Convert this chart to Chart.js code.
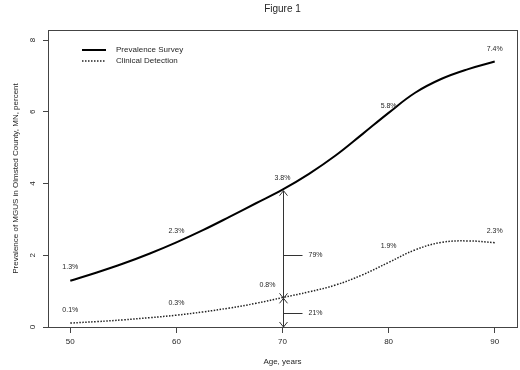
<!DOCTYPE html>
<html>
<head>
<meta charset="utf-8">
<script src="https://cdn.jsdelivr.net/npm/chart.js@4.4.1/dist/chart.umd.min.js"></script>
<style>
  html, body { margin: 0; padding: 0; background: #fff; }
</style>
</head>
<body>
<canvas id="fig1" width="520" height="370"></canvas>
<script>
// curve samples
const ages = [50, 52.5, 55, 57.5, 60, 62.5, 65, 67.5, 70, 72.5, 75, 77.5, 80, 82.5, 85, 87.5, 90];
const prevalenceSurvey = [1.29, 1.52, 1.77, 2.05, 2.36, 2.70, 3.07, 3.45, 3.83, 4.27, 4.78, 5.37, 5.97, 6.53, 6.92, 7.19, 7.40];
const clinicalDetection = [0.11, 0.15, 0.20, 0.26, 0.33, 0.42, 0.53, 0.66, 0.82, 0.98, 1.17, 1.45, 1.80, 2.15, 2.36, 2.40, 2.35];

// labelled values per decade
const decadeAges = [50, 60, 70, 80, 90];
const surveyPoints = [1.3, 2.3, 3.8, 5.8, 7.4];
const clinicalPoints = [0.1, 0.3, 0.8, 1.9, 2.3];

const xTicks = [50, 60, 70, 80, 90];
const yTicks = [0, 2, 4, 6, 8];

// split at age 70
const splitAge = 70;
const splitLevels = [3.8, 0.8, 0];
const shareLevels = [2.0, 0.4];
const shareLabels = ['79%', '21%'];

const FONT = '"Liberation Sans", Arial, sans-serif';
const TEXT = '#262626';
const AXIS = '#444';

const overlay = {
  id: 'overlay',
  afterDatasetsDraw(chart) {
    const { ctx, chartArea: a, scales: { x, y } } = chart;
    ctx.save();

    // box
    ctx.strokeStyle = AXIS;
    ctx.lineWidth = 1;
    ctx.strokeRect(a.left + 0.5, a.top + 0.5, a.width, a.height);

    // rotated y tick labels
    ctx.font = '8px ' + FONT;
    ctx.fillStyle = TEXT;
    ctx.textAlign = 'center';
    ctx.textBaseline = 'middle';
    y.ticks.forEach(t => {
      ctx.save();
      ctx.translate(a.left - 15, y.getPixelForValue(t.value));
      ctx.rotate(-Math.PI / 2);
      ctx.fillText(String(t.value), 0, 0);
      ctx.restore();
    });

    // arrows at 70
    const px = Math.round(x.getPixelForValue(splitAge)) + 0.5;
    const [hi, mid, lo] = splitLevels.map(v => y.getPixelForValue(v));
    ctx.strokeStyle = '#333';
    ctx.beginPath();
    ctx.moveTo(px, hi);
    ctx.lineTo(px, lo);
    const head = (tip, dir) => {
      ctx.moveTo(px - 4, tip + dir * 5);
      ctx.lineTo(px, tip);
      ctx.lineTo(px + 4, tip + dir * 5);
    };
    head(hi, 1);
    head(mid, -1);
    head(mid, 1);
    head(lo, -1);
    shareLevels.forEach(v => {
      const py = Math.round(y.getPixelForValue(v)) + 0.5;
      ctx.moveTo(px, py);
      ctx.lineTo(px + 19, py);
    });
    ctx.stroke();

    ctx.font = '7px ' + FONT;
    ctx.textAlign = 'left';
    shareLevels.forEach((v, i) => {
      ctx.fillText(shareLabels[i], px + 25, y.getPixelForValue(v));
    });

    // value labels
    ctx.textAlign = 'center';
    decadeAges.forEach((age, i) => {
      const lx = x.getPixelForValue(age);
      ctx.fillText(surveyPoints[i] + '%', lx, y.getPixelForValue(surveyPoints[i]) - 13);
      const shift = age === splitAge ? -15 : 0;
      ctx.fillText(clinicalPoints[i] + '%', lx + shift, y.getPixelForValue(clinicalPoints[i]) - 13);
    });

    // legend
    const lx0 = a.left + 34, lx1 = a.left + 58, ly = a.top + 20;
    ctx.strokeStyle = '#000';
    ctx.lineWidth = 2;
    ctx.beginPath();
    ctx.moveTo(lx0, ly);
    ctx.lineTo(lx1, ly);
    ctx.stroke();
    ctx.strokeStyle = '#222';
    ctx.lineWidth = 1.5;
    ctx.setLineDash([1.5, 1.5]);
    ctx.beginPath();
    ctx.moveTo(lx0, ly + 11);
    ctx.lineTo(lx1, ly + 11);
    ctx.stroke();
    ctx.setLineDash([]);
    ctx.font = '8px ' + FONT;
    ctx.textAlign = 'left';
    ctx.fillText('Prevalence Survey', a.left + 68, ly);
    ctx.fillText('Clinical Detection', a.left + 68, ly + 11);

    ctx.restore();
  }
};

const ctx = document.getElementById('fig1').getContext('2d');

const chart = new Chart(ctx, {
  type: 'line',
  data: {
    datasets: [{
      label: 'Prevalence Survey',
      data: ages.map((a, i) => ({ x: a, y: prevalenceSurvey[i] })),
      borderColor: '#000',
      borderWidth: 2,
      pointRadius: 0,
      tension: 0.4,
      fill: false
    }, {
      label: 'Clinical Detection',
      data: ages.map((a, i) => ({ x: a, y: clinicalDetection[i] })),
      borderColor: '#222',
      borderWidth: 1.5,
      borderDash: [1.5, 1.5],
      pointRadius: 0,
      tension: 0.4,
      fill: false
    }]
  },
  options: {
    responsive: false,
    animation: false,
    devicePixelRatio: 1,
    layout: { padding: { top: 0, right: 3, bottom: 0, left: 0 } },
    scales: {
      x: {
        type: 'linear',
        min: 47.9,
        max: 92.1,
        afterBuildTicks: s => { s.ticks = xTicks.map(v => ({ value: v })); },
        afterFit: s => { s.height = 43; },
        border: { display: false },
        grid: { drawOnChartArea: false, drawTicks: true, tickLength: 6, color: AXIS },
        ticks: { font: { family: FONT, size: 8 }, color: TEXT, padding: 4, maxRotation: 0, autoSkip: false },
        title: { display: true, text: 'Age, years', font: { family: FONT, size: 8 }, color: TEXT, padding: { bottom: 3 } }
      },
      y: {
        type: 'linear',
        min: 0,
        max: 8.28,
        afterBuildTicks: s => { s.ticks = yTicks.map(v => ({ value: v })); },
        afterFit: s => { s.width = 48; },
        border: { display: false },
        grid: { drawOnChartArea: false, drawTicks: true, tickLength: 5, color: AXIS },
        ticks: { display: false },
        title: {
          display: true,
          text: 'Prevalence of MGUS in Olmsted County, MN, percent',
          font: { family: FONT, size: 8 },
          color: TEXT,
          padding: { top: 11 }
        }
      }
    },
    plugins: {
      legend: { display: false },
      tooltip: { enabled: false },
      title: {
        display: true,
        text: 'Figure 1',
        fullSize: false,
        font: { family: FONT, size: 10, weight: 'normal' },
        color: TEXT,
        padding: { top: 3, bottom: 15 }
      }
    }
  },
  plugins: [overlay]
});
</script>
</body>
</html>
